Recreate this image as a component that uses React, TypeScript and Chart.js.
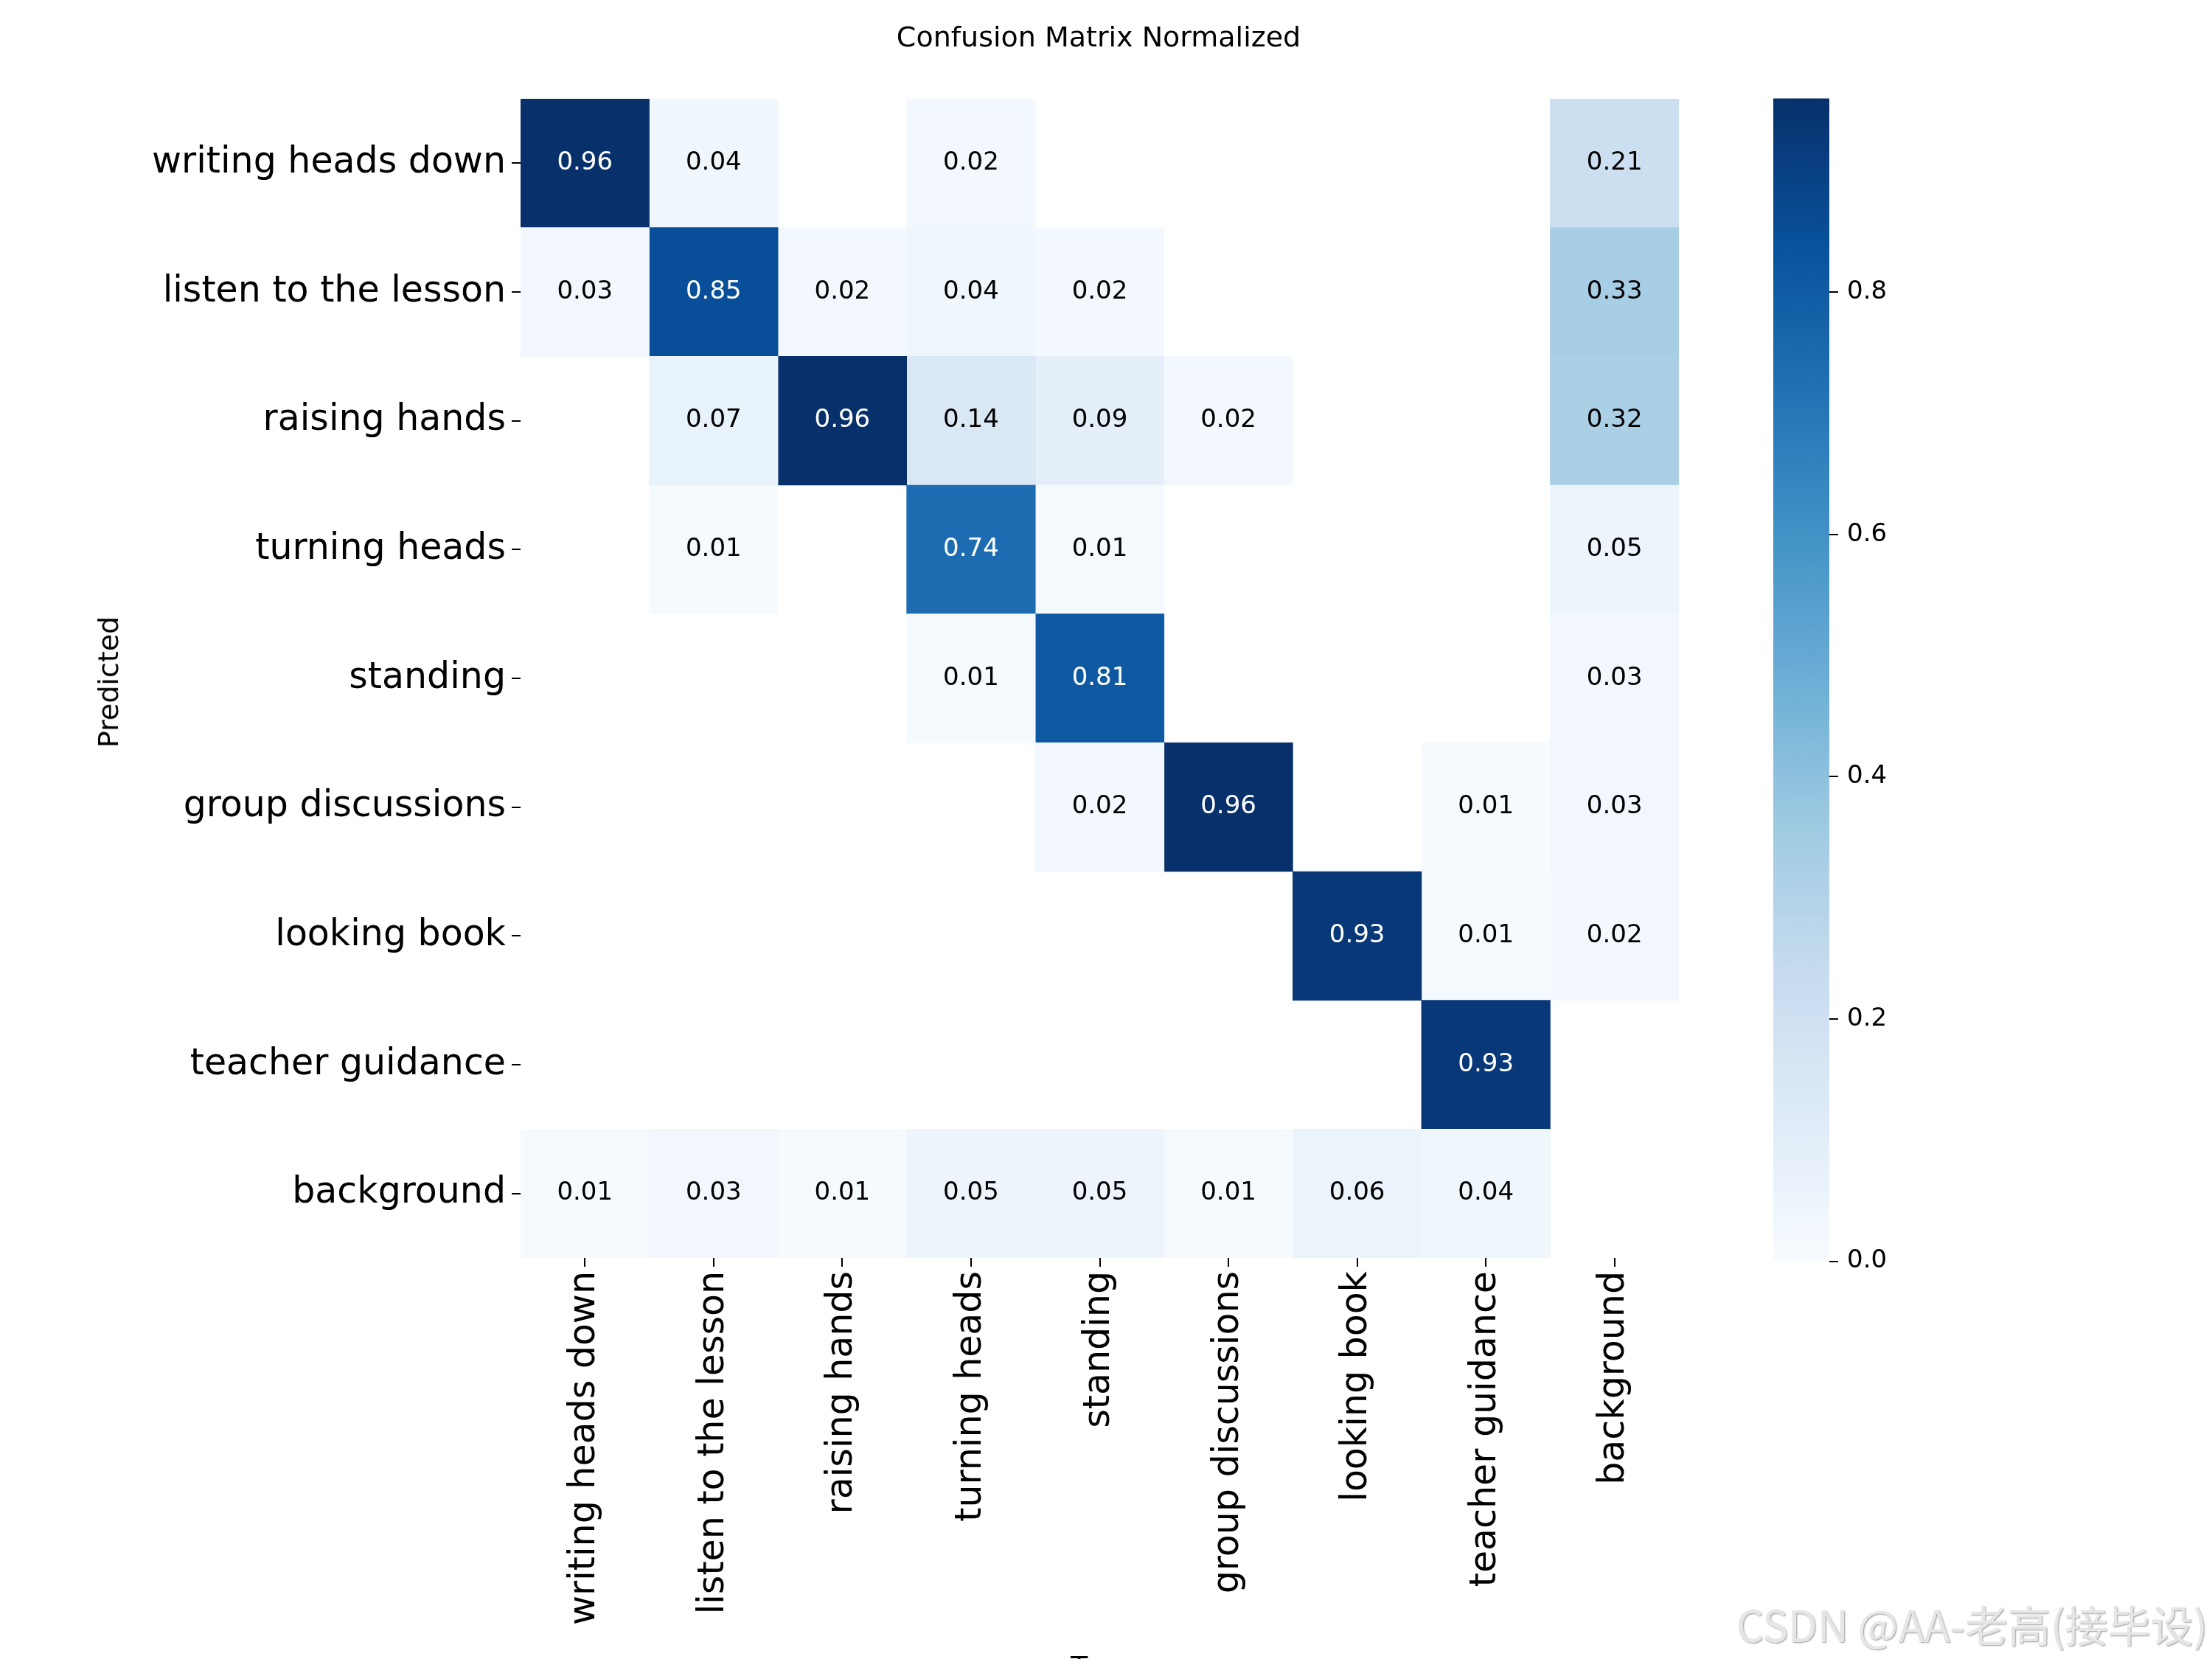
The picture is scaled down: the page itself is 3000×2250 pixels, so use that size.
import React, { useEffect, useRef } from "react";
import { Chart, registerables } from "chart.js";
Chart.register(...registerables);

const predictedLabels = ["writing heads down","listen to the lesson","raising hands","turning heads","standing","group discussions","looking book","teacher guidance","background"];
const trueLabels = ["writing heads down","listen to the lesson","raising hands","turning heads","standing","group discussions","looking book","teacher guidance","background"];
const row0 = [0.96,0.04,0,0.02,0,0,0,0,0.21];
const row1 = [0.03,0.85,0.02,0.04,0.02,0,0,0,0.33];
const row2 = [0,0.07,0.96,0.14,0.09,0.02,0,0,0.32];
const row3 = [0,0.01,0,0.74,0.01,0,0,0,0.05];
const row4 = [0,0,0,0.01,0.81,0,0,0,0.03];
const row5 = [0,0,0,0,0.02,0.96,0,0.01,0.03];
const row6 = [0,0,0,0,0,0,0.93,0.01,0.02];
const row7 = [0,0,0,0,0,0,0,0.93,0];
const row8 = [0.01,0.03,0.01,0.05,0.05,0.01,0.06,0.04,0];
const matrix = [row0,row1,row2,row3,row4,row5,row6,row7,row8];
const colorbarTicks = [0,0.2,0.4,0.6,0.8];
const vmax = 0.96;

const blues = ["#f7fbff","#deebf7","#c6dbef","#9ecae1","#6baed6","#4292c6","#2171b5","#08519c","#08306b"];
function hex(h: string) { return [1,3,5].map(i => parseInt(h.slice(i,i+2),16)); }
function blue(v: number) {
  const t = Math.max(0, Math.min(1, v / vmax)) * (blues.length - 1);
  const i = Math.min(blues.length - 2, Math.floor(t));
  const f = t - i;
  const a = hex(blues[i]), b = hex(blues[i+1]);
  const c = a.map((x, k) => Math.round(x + (b[k] - x) * f));
  return `rgb(${c[0]},${c[1]},${c[2]})`;
}

const FONT = "'DejaVu Sans', sans-serif";

export default function App() {
  const mainRef = useRef<HTMLCanvasElement>(null);
  const cbRef = useRef<HTMLCanvasElement>(null);
  useEffect(() => {
    const datasets = trueLabels.map((_, c) => ({
      label: trueLabels[c],
      data: matrix.map(r => [c - 0.5, c + 0.5]),
      backgroundColor: matrix.map(r => (r[c] > 0 ? blue(r[c]) : "rgba(0,0,0,0)")),
      borderWidth: 0,
      grouped: false,
      barPercentage: 1,
      categoryPercentage: 1,
    }));
    const textPlugin = {
      id: "celltext",
      afterDatasetsDraw(chart: any) {
        const ctx = chart.ctx;
        const xs = chart.scales.x, ys = chart.scales.y;
        ctx.save();
        ctx.font = `34px ${FONT}`;
        ctx.textAlign = "center";
        ctx.textBaseline = "middle";
        matrix.forEach((r, ri) => r.forEach((v, ci) => {
          if (v <= 0) return;
          ctx.fillStyle = v > 0.5 ? "#ffffff" : "#000000";
          ctx.fillText(v.toFixed(2), xs.getPixelForValue(ci), ys.getPixelForValue(ri));
        }));
        ctx.restore();
      },
    };
    const main = new Chart(mainRef.current!, {
      type: "bar",
      data: { labels: predictedLabels, datasets: datasets as any },
      plugins: [textPlugin],
      options: {
        animation: false, responsive: false, devicePixelRatio: 1, indexAxis: "y",
        layout: { padding: { top: 134, right: 723, left: 0, bottom: 0 } },
        plugins: { legend: { display: false }, tooltip: { enabled: false } },
        scales: {
          x: {
            type: "linear", min: -0.5, max: 8.5,
            afterBuildTicks: (s: any) => { s.ticks = trueLabels.map((_, i) => ({ value: i })); },
            afterFit: (s: any) => { s.height = 544; },
            ticks: { callback: (v: any) => trueLabels[v], minRotation: 90, maxRotation: 90, color: "#000", font: { family: FONT, size: 49 }, padding: 6 },
            grid: { drawOnChartArea: false, drawTicks: true, tickLength: 12, color: "#000", lineWidth: 2 },
            border: { display: false },
          },
          y: {
            type: "category",
            afterFit: (s: any) => { s.width = 706; },
            ticks: { color: "#000", font: { family: FONT, size: 49 }, padding: 8 },
            grid: { offset: false, drawOnChartArea: false, drawTicks: true, tickLength: 12, color: "#000", lineWidth: 2 },
            border: { display: false },
          },
        },
      },
    });
    const cb = new Chart(cbRef.current!, {
      type: "bar",
      data: { labels: ["cb"], datasets: [{ data: [[0, vmax]] as any, borderWidth: 0, barPercentage: 1, categoryPercentage: 1,
        backgroundColor: (c: any) => {
          const a = c.chart.chartArea; if (!a) return blues[4];
          const g = c.chart.ctx.createLinearGradient(0, a.bottom, 0, a.top);
          for (let i = 0; i <= 40; i++) g.addColorStop(i / 40, blue(vmax * i / 40));
          return g;
        } }] },
      options: {
        animation: false, responsive: false, devicePixelRatio: 1,
        layout: { padding: 0 },
        plugins: { legend: { display: false }, tooltip: { enabled: false } },
        scales: {
          x: { display: false },
          y: {
            position: "right", min: 0, max: vmax,
            afterFit: (s: any) => { s.width = 224; },
            afterBuildTicks: (s: any) => { s.ticks = colorbarTicks.map(v => ({ value: v })); },
            ticks: { callback: (v: any) => Number(v).toFixed(1), color: "#000", font: { family: FONT, size: 34 }, padding: 12 },
            grid: { drawOnChartArea: false, drawTicks: true, tickLength: 12, color: "#000", lineWidth: 2 },
            border: { display: false },
          },
        },
      },
    });
    return () => { main.destroy(); cb.destroy(); };
  }, []);
  return (
    <div style={{ position: "absolute", left: 0, top: 0, width: 3000, height: 2250, background: "#fff", overflow: "hidden", fontFamily: FONT }}>
      <canvas ref={mainRef} width={3000} height={2250} style={{ position: "absolute", left: 0, top: 0 }} />
      <canvas ref={cbRef} width={300} height={1642} style={{ position: "absolute", left: 2405, top: 101 }} />
      <div style={{ position: "absolute", left: 0, width: 2980, top: 28, textAlign: "center", fontSize: 38 }}>Confusion Matrix Normalized</div>
      <div style={{ position: "absolute", left: 147, top: 925, fontSize: 38, transform: "translate(-50%,-50%) rotate(-90deg)", whiteSpace: "nowrap" }}>Predicted</div>
      <div style={{ position: "absolute", left: 1452, top: 2238, fontSize: 38 }}>True</div>
      <div style={{ position: "absolute", left: 2355, top: 2160, fontSize: 58, color: "#e6e6e6", whiteSpace: "nowrap", fontFamily: "'Liberation Sans Narrow', 'Noto Sans CJK SC', sans-serif", textShadow: "1px 1px 2px #999" }}>CSDN @AA-老高(接毕设)</div>
    </div>
  );
}
